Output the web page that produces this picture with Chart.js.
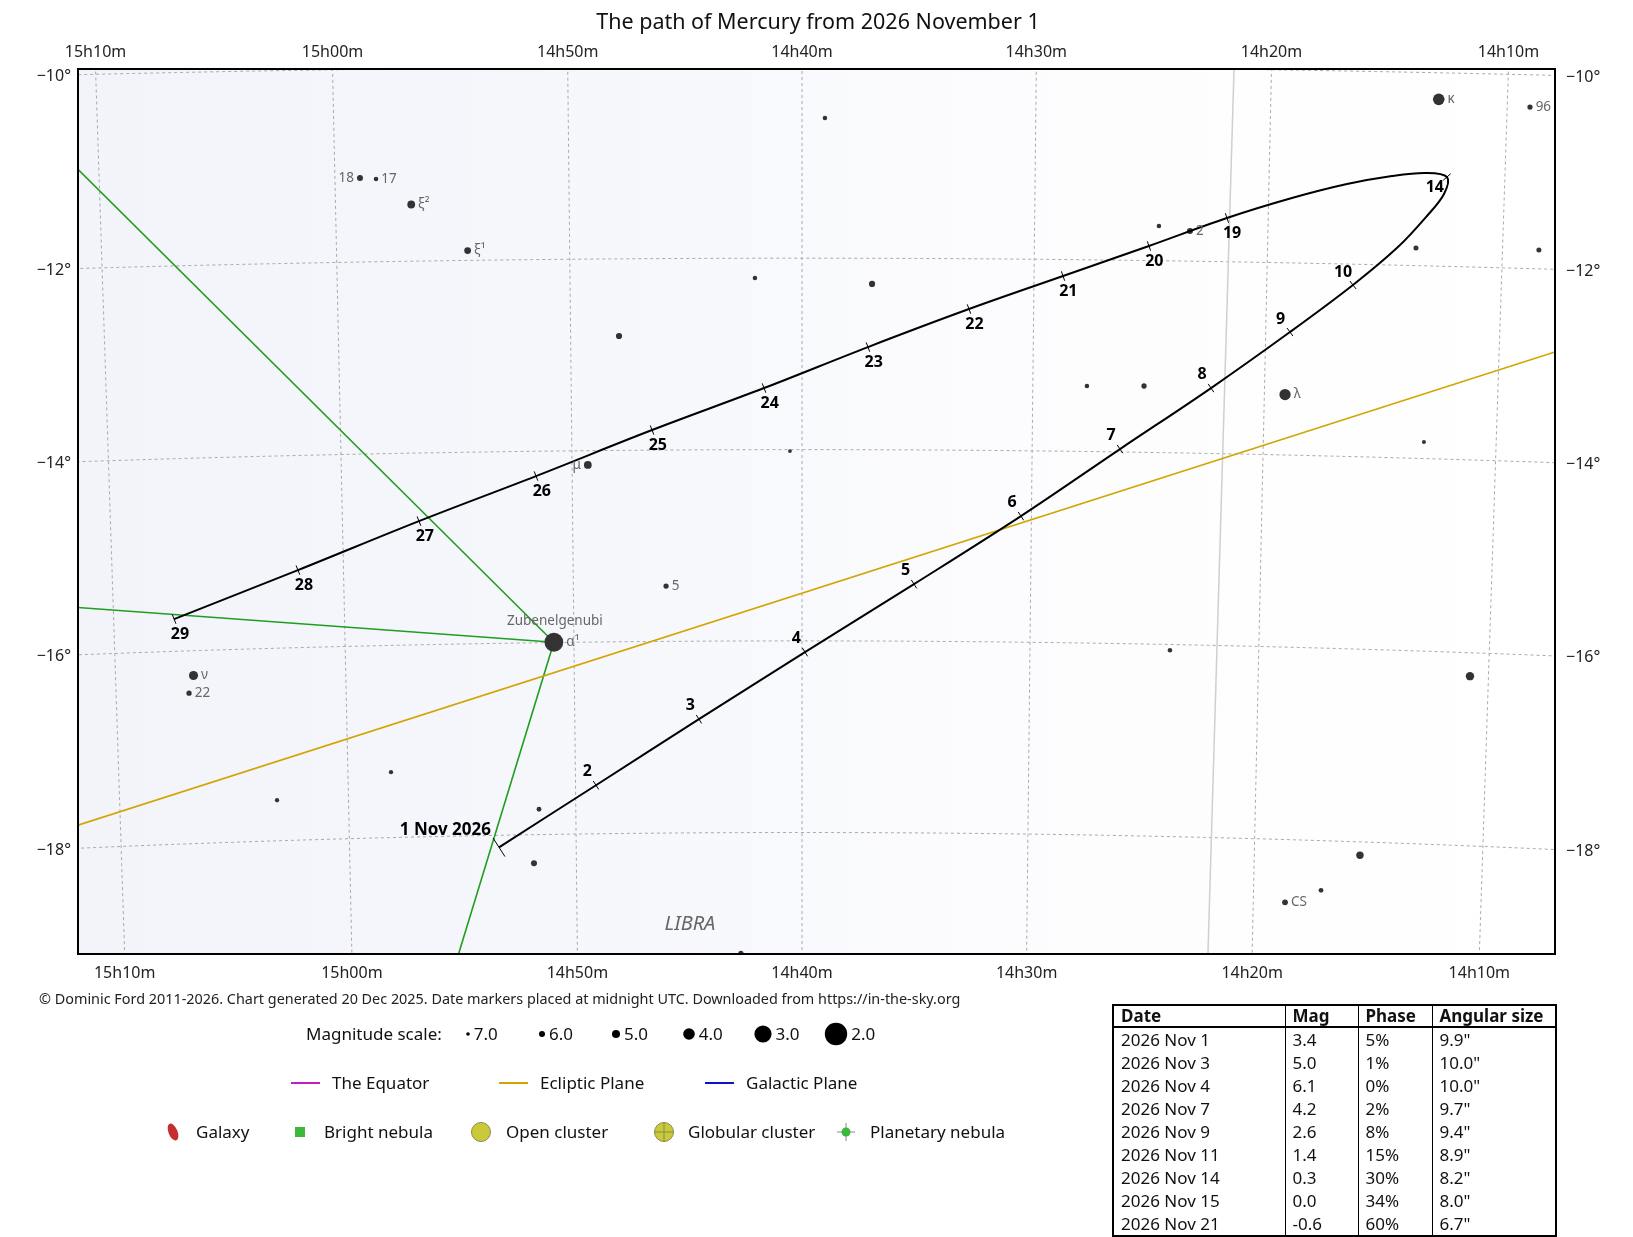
<!DOCTYPE html>
<html>
<head>
<meta charset="utf-8">
<title>The path of Mercury from 2026 November 1</title>
<script src="https://cdn.jsdelivr.net/npm/chart.js@4.4.1/dist/chart.umd.min.js"></script>
<style>
  body { margin: 0; background: #fff; font-family: "Noto Sans", sans-serif; color: #111; }
  #page { position: relative; width: 1633px; height: 1237px; overflow: hidden; }
  #sky { position: absolute; left: 0; top: 0; }
  .txt { position: absolute; white-space: nowrap; transform: translateY(-50%); line-height: 1.2; }
  #title { left: 0; width: 1636px; text-align: center; top: 21px; font-size: 21.5px; }
  #credit { left: 39px; top: 999px; font-size: 14.4px; color: #222; }
  .leg { font-size: 17px; color: #111; }
  #symbols { position: absolute; left: 0; top: 1000px; }
  #stats { position: absolute; left: 1112px; top: 1004px; width: 443px; table-layout: fixed; border-collapse: collapse; border: 2px solid #000; font-size: 17px; }
  #stats td, #stats th { height: 23px; padding: 0 7px; line-height: 20px; text-align: left; border-left: 1.5px solid #000; white-space: nowrap; overflow: hidden; }
  #stats th { height: 19px; font-weight: bold; border-bottom: 2px solid #000; }
</style>
</head>
<body>
<div id="page">
  <canvas id="sky" width="1633" height="1237"></canvas>
  <div class="txt" id="title">The path of Mercury from 2026 November 1</div>
  <div class="txt" id="credit">© Dominic Ford 2011-2026. Chart generated 20 Dec 2025. Date markers placed at midnight UTC. Downloaded from https://in-the-sky.org</div>
  <svg id="symbols" width="1000" height="160"></svg>
  <div id="legendText"></div>
  <table id="stats"><colgroup><col style="width:172px"><col style="width:73px"><col style="width:74px"><col style="width:124px"></colgroup><tbody id="statsBody"></tbody></table>
</div>
<script>
// Position de Mercure, un point par jour (AD en heures, Dec en degrés)
const pathDays = [1, 2, 3, 4, 5, 6, 7, 8, 9, 10, 11, 12, 13, 14, 15, 16, 17, 18, 19, 20, 21, 22, 23, 24, 25, 26, 27, 28, 29];
const pathRA = [14.8902, 14.8183, 14.7423, 14.6645, 14.5850, 14.5076, 14.4365, 14.3717, 14.3160, 14.2719,
                14.2407, 14.2208, 14.2092, 14.2075, 14.2224, 14.2463, 14.2780, 14.3168, 14.3627, 14.4180,
                14.4792, 14.5465, 14.6191, 14.6941, 14.7752, 14.8595, 14.9447, 15.0329, 15.1232];
const pathDec = [-18.125, -17.494, -16.815, -16.117, -15.403, -14.683, -13.970, -13.318, -12.719, -12.216,
                 -11.812, -11.483, -11.251, -11.075, -11.038, -11.077, -11.170, -11.326, -11.545, -11.848,
                 -12.172, -12.525, -12.927, -13.356, -13.790, -14.259, -14.710, -15.193, -15.665];
const markedDays = [1, 2, 3, 4, 5, 6, 7, 8, 9, 10, 14, 19, 20, 21, 22, 23, 24, 25, 26, 27, 28, 29];

// Etoiles
const starName = ['κ', '96', '', '18', '17', 'ξ²', 'ξ¹', '', '2', '', '', '', '', '', '', '', 'λ', '', 'μ', '',
                  '5', 'α¹', '', '', 'ν', '22', '', '', '', '', '', '', 'CS', ''];
const starRA = [14.2149, 14.1507, 14.6503, 14.9822, 14.9708, 14.9461, 14.9064, 14.4111, 14.3889, 14.2279,
                14.1410, 14.7005, 14.6163, 14.7985, 14.4610, 14.4199, 14.3185, 14.2182, 14.8219, 14.6754,
                14.7658, 14.8480, 14.3979, 14.1800, 15.1104, 15.1140, 14.9685, 15.0522, 14.8604, 14.8646,
                14.2560, 14.2838, 14.3100, 14.7120];
const starDec = [-10.274, -10.332, -10.539, -11.127, -11.140, -11.410, -11.898, -11.639, -11.686, -11.817,
                 -11.805, -12.206, -12.268, -12.805, -13.317, -13.308, -13.371, -13.829, -14.149, -14.015,
                 -15.422, -15.997, -16.059, -16.243, -16.257, -16.439, -17.320, -17.579, -17.736, -18.298,
                 -18.139, -18.515, -18.651, -19.257];
const starMag = [4.0, 6.3, 6.6, 6.0, 6.6, 5.1, 5.6, 6.6, 6.0, 6.4,
                 6.4, 6.6, 5.9, 5.9, 6.6, 6.3, 4.1, 6.8, 5.1, 6.9,
                 6.3, 2.7, 6.6, 4.9, 4.7, 6.3, 6.7, 6.7, 6.5, 6.0,
                 5.3, 6.5, 6.1, 6.3];

// Lignes de la constellation (alpha vers beta, gamma et sigma Lib)
const figureRA = [[14.8480, 15.2833], [14.8480, 15.5919], [14.8480, 15.0678]];
const figureDec = [[-15.997, -9.383], [-15.997, -14.789], [-15.997, -25.282]];
const eclipticRA = [15.1974, 14.1272];
const eclipticDec = [-17.762, -12.855];
const boundaryRA = [14.3598, 14.3659];
const boundaryDec = [-9.998, -19.213];

// Graduations
const raTicks = [14 + 10 / 60, 14 + 20 / 60, 14 + 30 / 60, 14 + 40 / 60, 14 + 50 / 60, 15, 15 + 10 / 60];
const raLabels = ['14h10m', '14h20m', '14h30m', '14h40m', '14h50m', '15h00m', '15h10m'];
const decTicks = [-10, -12, -14, -16, -18];
const decLabels = ['−10°', '−12°', '−14°', '−16°', '−18°'];

// Légende et tableau
const magScale = [7.0, 6.0, 5.0, 4.0, 3.0, 2.0];
const tableHead = ['Date', 'Mag', 'Phase', 'Angular size'];
const tableDate = ['2026 Nov 1', '2026 Nov 3', '2026 Nov 4', '2026 Nov 7', '2026 Nov 9', '2026 Nov 11', '2026 Nov 14', '2026 Nov 15', '2026 Nov 21'];
const tableMag = ['3.4', '5.0', '6.1', '4.2', '2.6', '1.4', '0.3', '0.0', '-0.6'];
const tablePhase = ['5%', '1%', '0%', '2%', '8%', '15%', '30%', '34%', '60%'];
const tableSize = ['9.9"', '10.0"', '10.0"', '9.7"', '9.4"', '8.9"', '8.2"', '8.0"', '6.7"'];

// Projection gnomonique centrée sur 14h40m, -14.6°
const D2R = Math.PI / 180;
const RA0 = 14 + 40 / 60, DEC0 = -14.6;
const KX = 5432, KY = 5479;
function proj(ra, dec) {
  const da = (ra - RA0) * 15 * D2R, d = dec * D2R, d0 = DEC0 * D2R;
  const cosc = Math.sin(d0) * Math.sin(d) + Math.cos(d0) * Math.cos(d) * Math.cos(da);
  const x = Math.cos(d) * Math.sin(da) / cosc;
  const y = (Math.cos(d0) * Math.sin(d) - Math.sin(d0) * Math.cos(d) * Math.cos(da)) / cosc;
  return { x: -x * KX, y: y * KY };
}
function magRadius(m) {
  const mags = [2, 3, 4, 5, 6, 7], rad = [11.2, 8.6, 5.8, 4.0, 3.0, 1.8];
  if (m <= 2) return rad[0];
  if (m >= 7) return rad[5];
  const i = Math.floor(m - 2);
  return rad[i] + (rad[i + 1] - rad[i]) * (m - mags[i]);
}

const starRadius = starMag.map(magRadius);
const font = '"Noto Sans", sans-serif';

const skyPlugin = {
  id: 'sky',
  beforeDatasetsDraw(chart) {
    const { ctx, chartArea: a, scales: { x, y } } = chart;
    const pix = (ra, dec) => { const p = proj(ra, dec); return [x.getPixelForValue(p.x), y.getPixelForValue(p.y)]; };
    ctx.save();
    const g = ctx.createLinearGradient(a.left, 0, a.right, 0);
    g.addColorStop(0, '#f2f4fa');
    g.addColorStop(0.4, '#f7f8fc');
    g.addColorStop(0.7, '#fdfdfe');
    g.addColorStop(1, '#ffffff');
    ctx.fillStyle = g;
    ctx.fillRect(a.left, a.top, a.width, a.height);
    ctx.beginPath();
    ctx.rect(a.left, a.top, a.width, a.height);
    ctx.clip();
    ctx.strokeStyle = '#aaaaaa';
    ctx.lineWidth = 1;
    ctx.setLineDash([3, 3]);
    raTicks.forEach(ra => {
      const p1 = pix(ra, -8), p2 = pix(ra, -21);
      ctx.beginPath(); ctx.moveTo(p1[0], p1[1]); ctx.lineTo(p2[0], p2[1]); ctx.stroke();
    });
    decTicks.forEach(dec => {
      ctx.beginPath();
      for (let ra = 13.9; ra <= 15.45; ra += 0.005) {
        const p = pix(ra, dec);
        if (ra === 13.9) ctx.moveTo(p[0], p[1]); else ctx.lineTo(p[0], p[1]);
      }
      ctx.stroke();
    });
    ctx.restore();
  },
  afterDatasetsDraw(chart) {
    const { ctx, chartArea: a, scales: { x, y } } = chart;
    const pix = (ra, dec) => { const p = proj(ra, dec); return [x.getPixelForValue(p.x), y.getPixelForValue(p.y)]; };
    ctx.save();
    // cadre
    ctx.strokeStyle = '#000';
    ctx.lineWidth = 2;
    ctx.strokeRect(a.left, a.top, a.width, a.height);

    // graduations AD
    ctx.fillStyle = '#222';
    ctx.font = '16px ' + font;
    ctx.textAlign = 'center';
    ctx.textBaseline = 'middle';
    raTicks.forEach((ra, i) => {
      const p1 = pix(ra, -8), p2 = pix(ra, -21);
      const xt = p1[0] + (a.top - p1[1]) * (p2[0] - p1[0]) / (p2[1] - p1[1]);
      const xb = p1[0] + (a.bottom - p1[1]) * (p2[0] - p1[0]) / (p2[1] - p1[1]);
      ctx.fillText(raLabels[i], xt, a.top - 17);
      ctx.fillText(raLabels[i], xb, a.bottom + 19);
    });
    // graduations Dec
    const edgeY = (dec, target) => {
      let lo = 13.5, hi = 15.9;
      for (let k = 0; k < 50; k++) {
        const mid = (lo + hi) / 2;
        if (pix(mid, dec)[0] > target) lo = mid; else hi = mid;
      }
      return pix((lo + hi) / 2, dec)[1];
    };
    decTicks.forEach((dec, i) => {
      ctx.textAlign = 'right';
      ctx.fillText(decLabels[i], a.left - 7, edgeY(dec, a.left) + 2);
      ctx.textAlign = 'left';
      ctx.fillText(decLabels[i], a.right + 11, edgeY(dec, a.right) + 2);
    });

    // noms des étoiles
    ctx.beginPath();
    ctx.rect(a.left, a.top, a.width, a.height);
    ctx.clip();
    ctx.font = '13.5px ' + font;
    ctx.fillStyle = '#666';
    starName.forEach((name, i) => {
      if (!name) return;
      const p = pix(starRA[i], starDec[i]), r = starRadius[i];
      if (name === '18' || name === 'μ') {
        ctx.textAlign = 'right';
        ctx.fillText(name, p[0] - r - 3, p[1]);
      } else {
        ctx.textAlign = 'left';
        ctx.fillText(name, p[0] + r + 3, p[1]);
      }
      if (name === 'α¹') {
        ctx.textAlign = 'center';
        ctx.fillText('Zubenelgenubi', p[0] + 1, p[1] - 21);
      }
    });

    // LIBRA
    const lp = pix(14.7497, -18.95);
    ctx.font = 'italic 20px ' + font;
    ctx.fillStyle = '#666';
    ctx.textAlign = 'center';
    ctx.fillText('LIBRA', lp[0], lp[1]);

    // repères de dates
    const pts = pathDays.map((d, i) => pix(pathRA[i], pathDec[i]));
    ctx.strokeStyle = '#000';
    ctx.lineWidth = 1;
    ctx.fillStyle = '#000';
    markedDays.forEach(day => {
      const i = pathDays.indexOf(day);
      const p = pts[i], pr = pts[Math.max(i - 1, 0)], nx = pts[Math.min(i + 1, pts.length - 1)];
      let dx = nx[0] - pr[0], dy = nx[1] - pr[1];
      const len = Math.hypot(dx, dy); dx /= len; dy /= len;
      const n = [dy, -dx];
      const h = day === 1 ? 11 : 5;
      ctx.beginPath();
      ctx.moveTo(p[0] - n[0] * h, p[1] - n[1] * h);
      ctx.lineTo(p[0] + n[0] * h, p[1] + n[1] * h);
      ctx.stroke();
      if (day === 1) {
        ctx.font = 'bold 17px ' + font;
        ctx.textAlign = 'right';
        ctx.fillText('1 Nov 2026', p[0] - 8, p[1] - 17);
      } else {
        ctx.font = 'bold 16px ' + font;
        ctx.textAlign = 'center';
        ctx.fillText(String(day), p[0] + n[0] * 16, p[1] + n[1] * 16);
      }
    });
    ctx.restore();
  }
};

const toXY = (ras, decs) => ras.map((ra, i) => proj(ra, decs[i]));

new Chart(document.getElementById('sky'), {
  type: 'scatter',
  data: {
    datasets: [
      { data: toXY(pathRA, pathDec), showLine: true, borderColor: '#000', borderWidth: 2, pointRadius: 0, tension: 0.35, order: 0 },
      { data: toXY(starRA, starDec), pointRadius: starRadius, pointBackgroundColor: '#333', pointBorderWidth: 0, order: 1 },
      { data: toXY(eclipticRA, eclipticDec), showLine: true, borderColor: '#d2a400', borderWidth: 1.6, pointRadius: 0, order: 2 },
      ...figureRA.map((ras, k) => ({ data: toXY(ras, figureDec[k]), showLine: true, borderColor: '#1f9e1f', borderWidth: 1.6, pointRadius: 0, order: 3 })),
      { data: toXY(boundaryRA, boundaryDec), showLine: true, borderColor: '#cfcfcf', borderWidth: 1.5, pointRadius: 0, order: 4 }
    ]
  },
  options: {
    responsive: false,
    animation: false,
    events: [],
    layout: { padding: { left: 78, right: 78, top: 69, bottom: 283 } },
    scales: {
      x: { type: 'linear', min: -724, max: 753, display: false },
      y: { type: 'linear', min: -447, max: 438, display: false }
    },
    plugins: { legend: { display: false }, tooltip: { enabled: false } }
  },
  plugins: [skyPlugin]
});

// Légende (HTML + SVG)
const svg = document.getElementById('symbols');
const lt = document.getElementById('legendText');
const NS = 'http://www.w3.org/2000/svg';
function addText(txt, left, top) {
  const el = document.createElement('div');
  el.className = 'txt leg';
  el.style.left = left + 'px';
  el.style.top = top + 'px';
  el.textContent = txt;
  lt.appendChild(el);
}
function shape(tag, attrs) {
  const el = document.createElementNS(NS, tag);
  for (const k in attrs) el.setAttribute(k, attrs[k]);
  svg.appendChild(el);
}
const oy = 1000;
addText('Magnitude scale:', 306, 1034);
const magX = [468, 542, 616, 689, 763, 836];
magScale.forEach((m, i) => {
  const r = magRadius(m);
  shape('circle', { cx: magX[i], cy: 1034 - oy, r: r, fill: '#000' });
  addText(m.toFixed(1), magX[i] + r + 4, 1034);
});
[['The Equator', '#c41cc4', 291], ['Ecliptic Plane', '#d2a400', 499], ['Galactic Plane', '#1010c8', 705]].forEach(([t, c, x0]) => {
  shape('line', { x1: x0, y1: 1083 - oy, x2: x0 + 29, y2: 1083 - oy, stroke: c, 'stroke-width': 2 });
  addText(t, x0 + 41, 1083);
});
const ry = 1132 - oy;
shape('ellipse', { cx: 173, cy: ry, rx: 4.5, ry: 9, fill: '#c62f2f', transform: `rotate(-22 173 ${ry})` });
addText('Galaxy', 196, 1132);
shape('rect', { x: 295, y: ry - 5, width: 10, height: 10, fill: '#3cb93c' });
addText('Bright nebula', 324, 1132);
shape('circle', { cx: 481, cy: ry, r: 9.5, fill: '#c9c93a', stroke: '#8a8a50', 'stroke-width': 1 });
addText('Open cluster', 506, 1132);
shape('circle', { cx: 664, cy: ry, r: 9.5, fill: '#c9c93a', stroke: '#8a8a50', 'stroke-width': 1 });
shape('line', { x1: 654.5, y1: ry, x2: 673.5, y2: ry, stroke: '#8a8a50', 'stroke-width': 1 });
shape('line', { x1: 664, y1: ry - 9.5, x2: 664, y2: ry + 9.5, stroke: '#8a8a50', 'stroke-width': 1 });
addText('Globular cluster', 688, 1132);
shape('line', { x1: 837, y1: ry, x2: 855, y2: ry, stroke: '#888', 'stroke-width': 1 });
shape('line', { x1: 846, y1: ry - 9, x2: 846, y2: ry + 9, stroke: '#888', 'stroke-width': 1 });
shape('circle', { cx: 846, cy: ry, r: 4.5, fill: '#3cb93c' });
addText('Planetary nebula', 870, 1132);

// Tableau
let html = '<tr>' + tableHead.map(h => `<th>${h}</th>`).join('') + '</tr>';
tableDate.forEach((d, i) => {
  html += `<tr><td>${d}</td><td>${tableMag[i]}</td><td>${tablePhase[i]}</td><td>${tableSize[i]}</td></tr>`;
});
document.getElementById('statsBody').innerHTML = html;
</script>
</body>
</html>
